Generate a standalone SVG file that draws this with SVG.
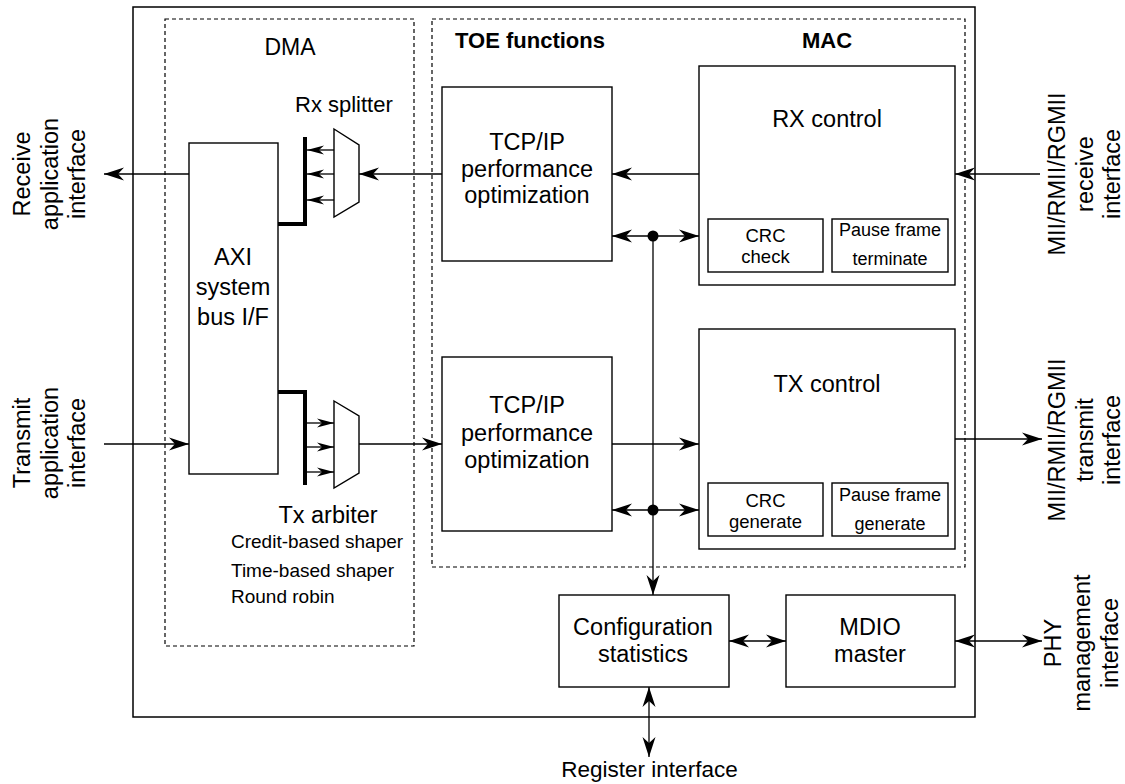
<svg xmlns="http://www.w3.org/2000/svg" width="1125" height="784" viewBox="0 0 1125 784">
<style>
text{font-family:"Liberation Sans",Arial,Helvetica,sans-serif;fill:#000}
.t{font-size:23.5px}
.c{text-anchor:middle}
.b{font-size:22px;font-weight:bold}
.s{font-size:18.5px}
.box{fill:#fff;stroke:#000;stroke-width:1.4}
.dash{fill:none;stroke:#000;stroke-width:1.2;stroke-dasharray:4 3}
.ln{fill:none;stroke:#000;stroke-width:1.3}
.thick{fill:none;stroke:#000;stroke-width:4}
</style>
<defs>
<marker id="ah" viewBox="-21 -8 22 16" refX="0" refY="0" markerWidth="22" markerHeight="16" markerUnits="userSpaceOnUse" orient="auto-start-reverse">
<path d="M0,0 L-20,-6.5 L-14,0 L-20,6.5 Z" fill="#000"/>
</marker>
<marker id="as" viewBox="-18 -6 19 12" refX="0" refY="0" markerWidth="19" markerHeight="12" markerUnits="userSpaceOnUse" orient="auto">
<path d="M0,0 L-17,-4.5 L-12,0 L-17,4.5 Z" fill="#000"/>
</marker>
</defs>
<rect width="1125" height="784" fill="#fff"/>

<g id="outer"><rect x="133" y="7" width="842" height="710" fill="none" stroke="#000" stroke-width="1.5"/></g>

<g id="dma">
<rect class="dash" x="165" y="19" width="249" height="627"/>
<text class="c" style="font-size:23px" x="290" y="55">DMA</text>
</g>

<g id="toe">
<rect class="dash" x="432" y="19" width="533" height="548"/>
<text class="b" x="455" y="48">TOE functions</text>
<text class="b" x="802" y="48">MAC</text>
</g>

<g id="axi">
<rect class="box" x="189" y="143" width="89" height="331"/>
<text class="t c" x="233" y="265">AXI</text>
<text class="t c" x="233" y="295">system</text>
<text class="t c" x="233" y="325">bus I/F</text>
</g>

<g id="rx-splitter">
<polygon class="box" points="334,129 359,145 359,202 334,217"/>
<polyline class="thick" points="278,224 305,224 305,137"/>
<text style="font-size:22px" x="295" y="112">Rx splitter</text>
</g>

<g id="tx-arbiter">
<polygon class="box" points="334,401 359,416 359,473 334,488"/>
<polyline class="thick" points="278,392 305,392 305,485"/>
<text style="font-size:23.5px" class="c" x="328" y="523">Tx arbiter</text>
<text style="font-size:19px" x="231" y="548">Credit-based shaper</text>
<text style="font-size:19px" x="231" y="577">Time-based shaper</text>
<text style="font-size:19px" x="231" y="603">Round robin</text>
</g>

<g id="tcp-rx">
<rect class="box" x="442" y="87" width="170" height="174"/>
<text class="t c" x="527" y="150">TCP/IP</text>
<text class="t c" x="527" y="177">performance</text>
<text class="t c" x="527" y="203">optimization</text>
</g>

<g id="tcp-tx">
<rect class="box" x="442" y="357" width="170" height="174"/>
<text class="t c" x="527" y="413">TCP/IP</text>
<text class="t c" x="527" y="441">performance</text>
<text class="t c" x="527" y="468">optimization</text>
</g>

<g id="rx-control">
<rect class="box" x="699" y="66" width="256" height="219"/>
<text class="t c" x="827" y="127">RX control</text>
</g>
<g id="crc-check">
<rect class="box" x="708" y="219" width="115" height="53"/>
<text class="s c" x="765.5" y="242">CRC</text>
<text class="s c" x="765.5" y="263">check</text>
</g>
<g id="pause-terminate">
<rect class="box" x="832" y="219" width="116" height="53"/>
<text class="c" style="font-size:18px" x="890" y="236">Pause frame</text>
<text class="c" style="font-size:18px" x="890" y="265">terminate</text>
</g>

<g id="tx-control">
<rect class="box" x="699" y="329" width="256" height="220"/>
<text class="t c" x="827" y="392">TX control</text>
</g>
<g id="crc-generate">
<rect class="box" x="708" y="483" width="115" height="53"/>
<text class="s c" x="765.5" y="507">CRC</text>
<text class="s c" x="765.5" y="528">generate</text>
</g>
<g id="pause-generate">
<rect class="box" x="832" y="483" width="116" height="53"/>
<text class="c" style="font-size:18px" x="890" y="501">Pause frame</text>
<text class="c" style="font-size:18px" x="890" y="530">generate</text>
</g>

<g id="config">
<rect class="box" x="559" y="595" width="170" height="92"/>
<text class="t c" x="643" y="635">Configuration</text>
<text class="t c" x="643" y="662">statistics</text>
</g>

<g id="mdio">
<rect class="box" x="786" y="595" width="169" height="92"/>
<text class="t c" x="870" y="635">MDIO</text>
<text class="t c" x="870" y="662">master</text>
</g>

<g id="labels">
<text class="t c" transform="translate(30,174) rotate(-90)"><tspan x="0" y="0">Receive</tspan><tspan x="0" y="27.5">application</tspan><tspan x="0" y="55">interface</tspan></text>
<text class="t c" transform="translate(30,443) rotate(-90)"><tspan x="0" y="0">Transmit</tspan><tspan x="0" y="27.5">application</tspan><tspan x="0" y="55">interface</tspan></text>
<text class="t c" transform="translate(1065,174) rotate(-90)"><tspan x="0" y="0">MII/RMII/RGMII</tspan><tspan x="0" y="28">receive</tspan><tspan x="0" y="55">interface</tspan></text>
<text class="t c" transform="translate(1065,440) rotate(-90)"><tspan x="0" y="0">MII/RMII/RGMII</tspan><tspan x="0" y="28">transmit</tspan><tspan x="0" y="55">interface</tspan></text>
<text class="t c" transform="translate(1061,643) rotate(-90)"><tspan x="0" y="0">PHY</tspan><tspan x="0" y="28.5">management</tspan><tspan x="0" y="57">interface</tspan></text>
<text class="c" style="font-size:22.5px" x="649.5" y="777">Register interface</text>
</g>

<g id="connectors">
<line class="ln" x1="699" y1="174" x2="612" y2="174" marker-end="url(#ah)"/>
<line class="ln" x1="442" y1="174" x2="359" y2="174" marker-end="url(#ah)"/>
<line class="ln" x1="334" y1="150" x2="307" y2="150" marker-end="url(#as)"/>
<line class="ln" x1="334" y1="174" x2="307" y2="174" marker-end="url(#as)"/>
<line class="ln" x1="334" y1="200" x2="307" y2="200" marker-end="url(#as)"/>
<line class="ln" x1="189" y1="174" x2="104" y2="174" marker-end="url(#ah)"/>
<line class="ln" x1="104" y1="444" x2="189" y2="444" marker-end="url(#ah)"/>
<line class="ln" x1="307" y1="423" x2="334" y2="423" marker-end="url(#as)"/>
<line class="ln" x1="307" y1="447" x2="334" y2="447" marker-end="url(#as)"/>
<line class="ln" x1="307" y1="472" x2="334" y2="472" marker-end="url(#as)"/>
<line class="ln" x1="359" y1="444" x2="442" y2="444" marker-end="url(#ah)"/>
<line class="ln" x1="612" y1="444" x2="699" y2="444" marker-end="url(#ah)"/>
<line class="ln" x1="612" y1="236" x2="699" y2="236" marker-start="url(#ah)" marker-end="url(#ah)"/>
<line class="ln" x1="612" y1="510" x2="699" y2="510" marker-start="url(#ah)" marker-end="url(#ah)"/>
<line class="ln" x1="653" y1="236" x2="653" y2="595" marker-end="url(#ah)"/>
<circle cx="653" cy="236" r="5.5" fill="#000"/>
<circle cx="653" cy="510" r="5.5" fill="#000"/>
<line class="ln" x1="1040" y1="174" x2="955" y2="174" marker-end="url(#ah)"/>
<line class="ln" x1="955" y1="439" x2="1042" y2="439" marker-end="url(#ah)"/>
<line class="ln" x1="729" y1="641" x2="786" y2="641" marker-start="url(#ah)" marker-end="url(#ah)"/>
<line class="ln" x1="955" y1="641" x2="1042" y2="641" marker-start="url(#ah)" marker-end="url(#ah)"/>
<line class="ln" x1="649" y1="687" x2="649" y2="757" marker-start="url(#ah)" marker-end="url(#ah)"/>
</g>
</svg>
